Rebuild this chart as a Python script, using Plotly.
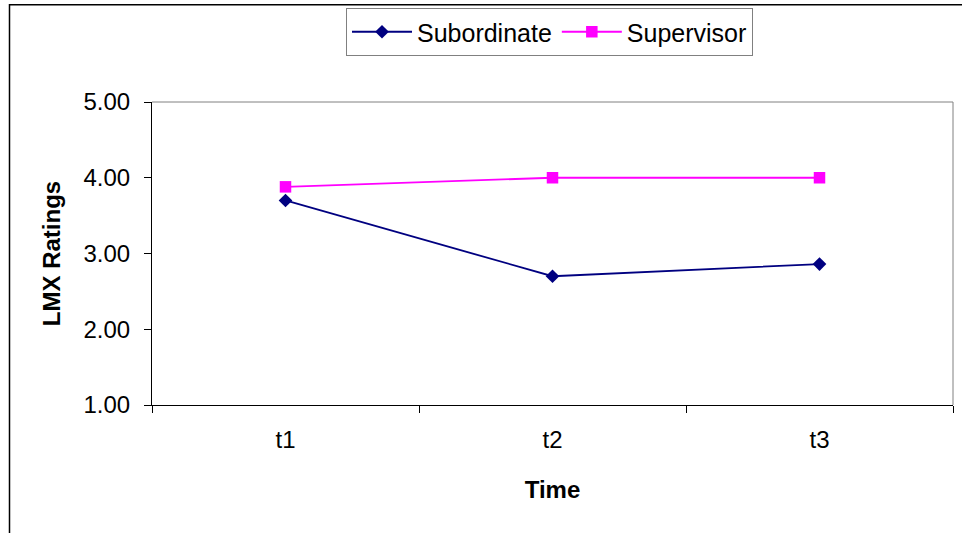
import plotly.graph_objects as go

times = ["t1", "t2", "t3"]
subordinate = [3.70, 2.70, 2.86]
supervisor = [3.88, 4.00, 4.00]
y_ticks = [1, 2, 3, 4, 5]

W, H = 962, 533
L, R, T, B = 152, 9, 101, 128
pw, ph = W - L - R, H - T - B

def px_x(x):
    return (x - L) / pw

def px_y(y):
    return (H - B - y) / ph

fig = go.Figure()
fig.add_trace(go.Scatter(
    x=times, y=subordinate, name="Subordinate", mode="lines+markers",
    line=dict(color="#000080", width=1.8),
    marker=dict(symbol="diamond", size=10.5, color="#000080"),
))
fig.add_trace(go.Scatter(
    x=times, y=supervisor, name="Supervisor", mode="lines+markers",
    line=dict(color="#FF00FF", width=1.8),
    marker=dict(symbol="square", size=11.5, color="#FF00FF"),
))

font = "Liberation Sans, Arial, sans-serif"

fig.update_layout(
    width=W, height=H,
    margin=dict(l=L, r=R, t=T, b=B, pad=0),
    paper_bgcolor="white", plot_bgcolor="white",
    font=dict(family=font, size=24, color="black"),
    showlegend=True,
    legend=dict(
        orientation="h", x=px_x(346), y=px_y(8),
        xanchor="left", yanchor="top",
        bordercolor="#808080", borderwidth=1,
        font=dict(size=25), itemwidth=60,
        tracegroupgap=0,
    ),
    xaxis=dict(
        type="category", range=[-0.5, 2.5],
        tickson="boundaries", ticks="outside", ticklen=7, tickwidth=1, tickcolor="black",
        showline=True, linecolor="black", linewidth=1,
        showgrid=False, zeroline=False,
        tickfont=dict(size=24), ticklabelstandoff=13,
        title=dict(text="<b>Time</b>", font=dict(size=24), standoff=29),
    ),
    yaxis=dict(
        range=[1, 5], tickvals=y_ticks, tickformat=".2f",
        ticks="outside", ticklen=7, tickwidth=1, tickcolor="black",
        showline=True, linecolor="black", linewidth=1,
        showgrid=False, zeroline=False,
        tickfont=dict(size=24), ticklabelstandoff=9,
        title=dict(text="<b>LMX Ratings</b>", font=dict(size=24), standoff=16),
    ),
    shapes=[
        # plot-area frame (top and right edges)
        dict(type="line", xref="paper", yref="paper", x0=0, x1=1, y0=1, y1=1,
             line=dict(color="#808080", width=1)),
        dict(type="line", xref="paper", yref="paper", x0=1, x1=1, y0=0, y1=1,
             line=dict(color="#808080", width=1)),
        # chart-area frame
        dict(type="rect", xref="paper", yref="paper",
             x0=px_x(9.5), x1=px_x(W + 5), y0=px_y(3.5), y1=px_y(H + 5),
             line=dict(color="black", width=1.5), layer="below"),
    ],
)

fig.write_html("out.html")
